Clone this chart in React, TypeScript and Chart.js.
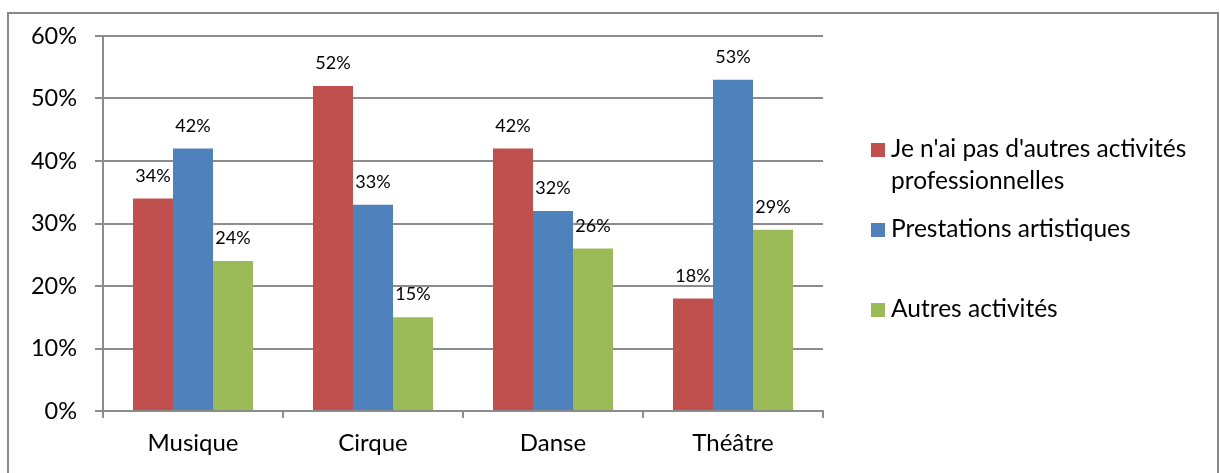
import React, { useEffect, useRef } from "react";
import { Chart, registerables } from "chart.js";

Chart.register(...registerables);

const categories = ["Musique", "Cirque", "Danse", "Théâtre"];
const seriesNames = [
  ["Je n'ai pas d'autres activités", "professionnelles"],
  ["Prestations artistiques"],
  ["Autres activités"],
];
const noOtherActivity = [34, 52, 42, 18];
const artisticServices = [42, 33, 32, 53];
const otherActivities = [24, 15, 26, 29];
const seriesColors = ["#C0504D", "#4F81BD", "#9BBB59"];
const yTicks = [0, 10, 20, 30, 40, 50, 60];

const FONT = "Lato, 'Noto Sans', sans-serif";

const dataLabelPlugin = {
  id: "dataLabels",
  afterDatasetsDraw(chart: any) {
    const ctx = chart.ctx;
    ctx.save();
    ctx.font = `18px ${FONT}`;
    ctx.fillStyle = "#000";
    ctx.textAlign = "center";
    ctx.textBaseline = "alphabetic";
    chart.data.datasets.forEach((ds: any, i: number) => {
      const meta = chart.getDatasetMeta(i);
      meta.data.forEach((bar: any, j: number) => {
        ctx.fillText(ds.data[j] + "%", bar.x, bar.y - 17);
      });
    });
    ctx.restore();
  },
};

const legendPlugin = {
  id: "sideLegend",
  afterDraw(chart: any) {
    const ctx = chart.ctx;
    ctx.save();
    ctx.font = `24.5px ${FONT}`;
    ctx.textAlign = "left";
    ctx.textBaseline = "alphabetic";
    const baselines = [157, 237, 317];
    seriesNames.forEach((lines, i) => {
      const b = baselines[i];
      ctx.fillStyle = seriesColors[i];
      ctx.fillRect(871, b - 14, 14, 14);
      ctx.fillStyle = "#000";
      lines.forEach((line, k) => {
        ctx.fillText(line, 891, b + k * 32);
      });
    });
    ctx.restore();
  },
};

const borderPlugin = {
  id: "outerBorder",
  afterDraw(chart: any) {
    const ctx = chart.ctx;
    ctx.save();
    ctx.strokeStyle = "#888888";
    ctx.lineWidth = 2;
    ctx.strokeRect(8, 13, 1210, 500);
    ctx.restore();
  },
};

export default function App() {
  const ref = useRef<HTMLCanvasElement | null>(null);
  useEffect(() => {
    if (!ref.current) return;
    Chart.defaults.font.family = FONT;
    const chart = new Chart(ref.current, {
      type: "bar",
      data: {
        labels: categories,
        datasets: [
          { label: seriesNames[0].join(" "), data: noOtherActivity, backgroundColor: seriesColors[0] },
          { label: seriesNames[1].join(" "), data: artisticServices, backgroundColor: seriesColors[1] },
          { label: seriesNames[2].join(" "), data: otherActivities, backgroundColor: seriesColors[2] },
        ],
      },
      options: {
        responsive: false,
        animation: false,
        layout: { padding: { left: 0, right: 397, top: 36, bottom: 0 } },
        datasets: { bar: { categoryPercentage: 2 / 3, barPercentage: 1 } },
        plugins: { legend: { display: false }, tooltip: { enabled: false } },
        scales: {
          y: {
            min: 0,
            max: 60,
            afterFit(scale: any) {
              scale.width = 103;
            },
            afterBuildTicks(scale: any) {
              scale.ticks = yTicks.map((v) => ({ value: v }));
            },
            ticks: {
              padding: 18,
              color: "#000",
              font: { size: 23.5, family: FONT },
              callback: (v: any) => v + "%",
            },
            grid: { color: "#8c8c8c", lineWidth: 2, tickLength: 8 },
            border: { color: "#8c8c8c", width: 2 },
          },
          x: {
            afterFit(scale: any) {
              scale.height = 62;
            },
            ticks: { padding: 11, color: "#000", font: { size: 24, family: FONT } },
            grid: { drawOnChartArea: false, color: "#8c8c8c", lineWidth: 2, tickLength: 7, offset: true },
            border: { color: "#8c8c8c", width: 2 },
          },
        },
      },
      plugins: [dataLabelPlugin, legendPlugin, borderPlugin],
    });
    return () => chart.destroy();
  }, []);
  return (
    <div style={{ position: "absolute", left: 0, top: 0, width: 1220, height: 473, background: "#fff" }}>
      <canvas ref={ref} width={1220} height={473} style={{ display: "block" }} />
    </div>
  );
}
